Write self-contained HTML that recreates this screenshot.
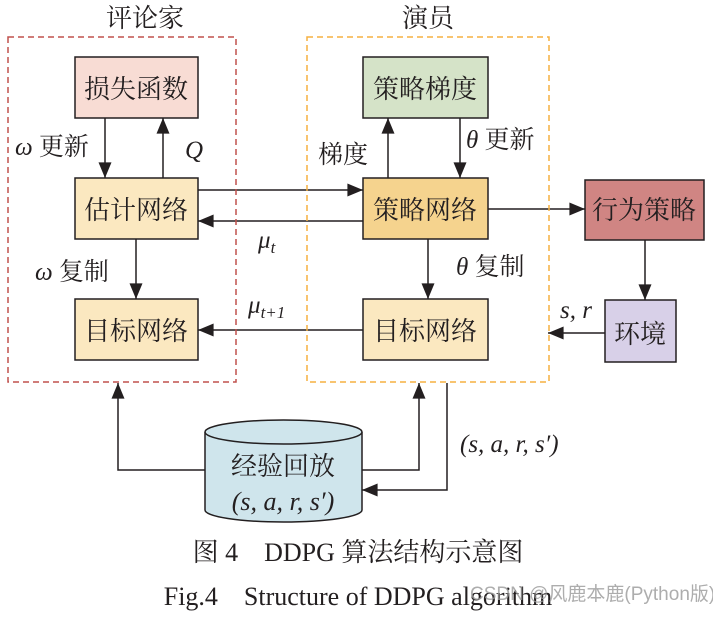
<!DOCTYPE html>
<html><head><meta charset="utf-8"><style>
body{margin:0;background:#fff}
svg text{font-family:"Liberation Serif","Noto Serif CJK SC",serif;fill:#231f20}
.i{font-style:italic}
</style></head><body>
<svg width="713" height="613" viewBox="0 0 713 613" xmlns="http://www.w3.org/2000/svg">
<defs>
<marker id="b" viewBox="0 0 12 10" refX="12" refY="5" markerWidth="16" markerHeight="13" markerUnits="userSpaceOnUse" orient="auto"><path d="M0,0 L12,5 L0,10 z" fill="#231f20"/></marker></defs>
<g stroke="#231f20" stroke-width="1.5" fill="none" marker-end="url(#b)">
<line x1="105" y1="118" x2="105" y2="178"/>
<line x1="163" y1="178" x2="163" y2="118"/>
<line x1="136" y1="239" x2="136" y2="299"/>
<line x1="198" y1="190" x2="363" y2="190"/>
<line x1="363" y1="221" x2="198" y2="221"/>
<line x1="363" y1="330" x2="198" y2="330"/>
<line x1="388" y1="178" x2="388" y2="118"/>
<line x1="460" y1="118" x2="460" y2="178"/>
<line x1="428" y1="239" x2="428" y2="299"/>
<line x1="488" y1="209" x2="585" y2="209"/>
<line x1="645" y1="240" x2="645" y2="300"/>
<line x1="605" y1="333" x2="548" y2="333"/>
<polyline points="205,470 118,470 118,383"/>
<polyline points="362,470 419,470 419,383"/>
<polyline points="447,383 447,490 362,490"/>
</g>
<rect x="8" y="37" width="228" height="345" fill="none" stroke="#c0504d" stroke-width="1.5" stroke-dasharray="6,4"/>
<rect x="307" y="37" width="242" height="345" fill="none" stroke="#f5b041" stroke-width="1.5" stroke-dasharray="6,4"/>
<g stroke="#231f20" stroke-width="1.5">
<rect x="75" y="57" width="123" height="61" fill="#f8dcd4"/>
<rect x="75" y="178" width="123" height="61" fill="#fbe8c0"/>
<rect x="75" y="299" width="123" height="61" fill="#fbe8c0"/>
<rect x="363" y="57" width="125" height="61" fill="#d5e3c8"/>
<rect x="363" y="178" width="125" height="61" fill="#f5d38e"/>
<rect x="363" y="299" width="125" height="61" fill="#fbe8c0"/>
<rect x="585" y="180" width="119" height="60" fill="#d08583"/>
<rect x="605" y="300" width="71" height="62" fill="#d8d0e8"/>
<path d="M205,432 L205,510 A78.5,12 0 0 0 362,510 L362,432" fill="#cfe5ec"/>
<ellipse cx="283.5" cy="432" rx="78.5" ry="12" fill="#cfe5ec"/>
</g>
<g font-size="26" text-anchor="middle">
<text x="145" y="27">评论家</text>
<text x="428" y="27">演员</text>
<text x="136" y="98">损失函数</text>
<text x="136" y="219">估计网络</text>
<text x="136" y="340">目标网络</text>
<text x="425" y="98">策略梯度</text>
<text x="425" y="219">策略网络</text>
<text x="425" y="340">目标网络</text>
<text x="644" y="219">行为策略</text>
<text x="640" y="343">环境</text>
<text x="283" y="475">经验回放</text>
<text x="283" y="510" class="i">(s, a, r, s′)</text>
</g>
<g font-size="25">
<text x="15" y="155"><tspan class="i">ω</tspan> 更新</text>
<text x="185" y="158" class="i">Q</text>
<text x="35" y="280"><tspan class="i">ω</tspan> 复制</text>
<text x="318" y="163">梯度</text>
<text x="466" y="148"><tspan class="i">θ</tspan> 更新</text>
<text x="456" y="275"><tspan class="i">θ</tspan> 复制</text>
<text x="258" y="248" class="i">μ<tspan font-size="17" dy="5">t</tspan></text>
<text x="248" y="313" class="i">μ<tspan font-size="17" dy="5">t+1</tspan></text>
<text x="560" y="318" class="i">s, r</text>
<text x="460" y="452" class="i">(s, a, r, s′)</text>
</g>
<text x="358" y="561" font-size="26" text-anchor="middle">图 4　DDPG 算法结构示意图</text>
<text x="358" y="605" font-size="26" text-anchor="middle">Fig.4　Structure of DDPG algorithm</text>
<text x="470" y="600" font-size="19" style="font-family:'Liberation Sans','Noto Sans CJK SC',sans-serif;fill:#999;opacity:0.8">CSDN @风鹿本鹿(Python版)</text>
</svg>
</body></html>
